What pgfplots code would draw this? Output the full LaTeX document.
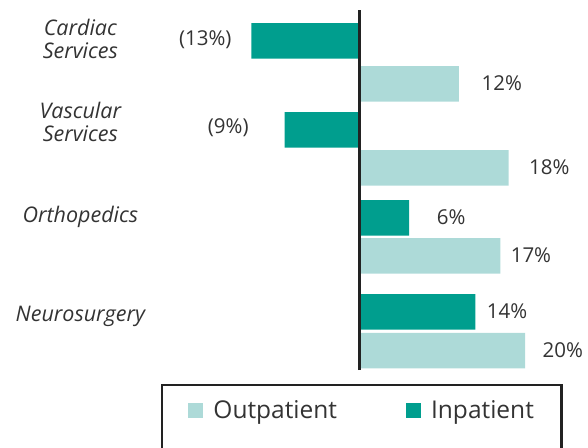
\documentclass[border=0pt]{standalone}
\usepackage{pgfplots}
\pgfplotsset{compat=1.18}
\usepackage{fontspec}
\setmainfont{Open Sans}
\definecolor{inpat}{RGB}{0,158,142}
\definecolor{outpat}{RGB}{173,218,216}
\definecolor{txt}{RGB}{51,51,51}
\definecolor{axln}{RGB}{34,34,34}
\begin{document}
\begin{tikzpicture}
\clip (0pt,0pt) rectangle (588pt,447pt);
\begin{axis}[
  at={(160pt,0pt)}, anchor=south west,
  scale only axis, width=428.3pt, height=447pt,
  xmin=-24, xmax=27.6, ymin=0, ymax=447,
  axis lines=none, clip=false,
  xbar, bar width=35.5pt, bar shift=0pt,
  legend columns=2,
  legend image code/.code={\fill[#1] (0pt,-7.5pt) rectangle (15pt,7.5pt);},
  legend style={at={(axis cs:-20.6,37)}, anchor=west, draw=none, fill=none,
    inner sep=0pt, font=\fontsize{24.5}{29}\selectfont, text=txt,
    /tikz/every odd column/.append style={column sep=8pt},
    /tikz/every even column/.append style={column sep=67pt}},
]
% Outpatient (y positions = bar centres)
\addplot[fill=outpat, draw=none] coordinates {(12,363.2) (18,279.2) (17,191.2) (20,96.3)};
\addlegendentry{Outpatient}
% Inpatient
\addplot[fill=inpat, draw=none] coordinates {(-13,406.2) (-9,317.2) (6,229.2) (14,135.2)};
\addlegendentry{Inpatient}
\draw[axln, line width=2.6pt] (axis cs:0,77) -- (axis cs:0,437);
\begin{scope}[every node/.style={font=\fontsize{20.5}{24}\selectfont, text=txt}]
\node at (axis cs:-18.55,407) {(13\%)};
\node at (axis cs:17.19,364) {12\%};
\node at (axis cs:-15.78,319) {(9\%)};
\node at (axis cs:22.89,280) {18\%};
\node at (axis cs:11.08,230) {6\%};
\node at (axis cs:20.69,192) {17\%};
\node at (axis cs:17.80,136) {14\%};
\node at (axis cs:24.54,97) {20\%};
\end{scope}
\begin{scope}[every node/.style={font=\fontsize{21.5}{23}\selectfont\itshape, text=txt, align=center}]
\node at (axis cs:-33.6,408.5) {Cardiac\\Services};
\node at (axis cs:-33.6,325.5) {Vascular\\Services};
\node at (axis cs:-33.6,230.5) {Orthopedics};
\node at (axis cs:-33.6,130.5) {Neurosurgery};
\end{scope}
\end{axis}
\draw[axln, line width=2.4pt] (162pt,-20pt) -- (162pt,62.3pt) -- (561.5pt,62.3pt) -- (561.5pt,-20pt);
\end{tikzpicture}
\end{document}
